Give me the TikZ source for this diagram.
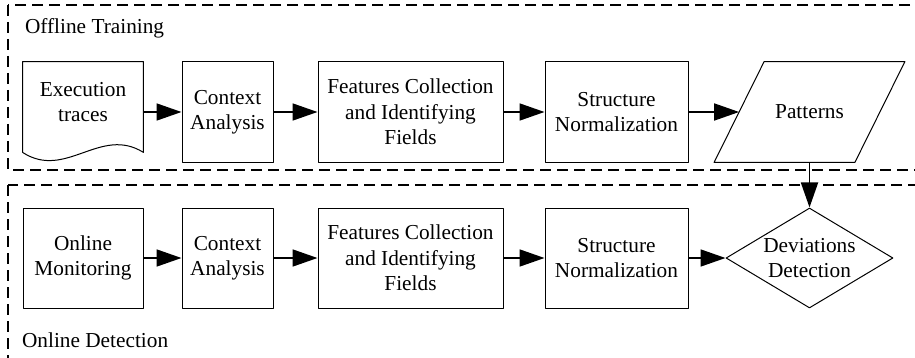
\documentclass[tikz,border=0pt]{standalone}
\usepackage{fontspec}
\setmainfont{Liberation Serif}
\usetikzlibrary{arrows.meta,calc,shapes.geometric}
\begin{document}
\begin{tikzpicture}[x=0.5pt, y=-0.5pt, font=\fontsize{10.65}{12.75}\selectfont, line join=round, line cap=round, >={Triangle[length=12.5pt,width=8.5pt]}]
	\tikzset{
		box/.style={draw, line width=0.5pt, align=center, minimum height=50pt},
		frame/.style={line width=0.9pt, dash pattern=on 5.5pt off 3pt, line cap=butt},
		link/.style={->, line width=0.9pt, line cap=butt}
	}
	%Khung hình.
	\useasboundingbox (0,0) rectangle (915,358);
	\clip (0,0) rectangle (915,358);
	\draw[frame] (8,5) rectangle (940,170);
	\draw[frame] (8,185) rectangle (940,380);
	\node[anchor=west] (offl) at (18,28) {Offline Training};
	\node[anchor=west] (onl) at (15,340) {Online Detection};
	%Nút đầu.
	\node[align=center, minimum width=60pt, minimum height=40pt, inner sep=0pt] (trace) at (83,102) {Execution\\traces};
	\draw[line width=0.5pt] (trace.north west) -- (trace.north east) -- ($(trace.south east)+(0,10)$)
		.. controls ($(trace.south east)+(-43,-17)$) and ($(trace.south west)+(43,38)$) .. ($(trace.south west)+(0,10)$) -- cycle;
	\node[box, minimum width=60pt] (mon) at (83,258) {Online\\Monitoring};
	%Hai hàng giống nhau.
	\foreach \r/\y in {off/112,on/258}{
		\node[box, minimum width=45.5pt] (ctx\r) at (227.5,\y) {Context\\Analysis};
		\node[box, minimum width=92.5pt] (feat\r) at (410.5,\y) {Features Collection\\and Identifying\\Fields};
		\node[box, minimum width=71.5pt] (norm\r) at (616.5,\y) {Structure\\Normalization};
		\draw[link] (ctx\r) -- (feat\r);
		\draw[link] (feat\r) -- (norm\r);
	}
	%Nút cuối.
	\node[minimum width=70pt, minimum height=50pt] (pat) at (809.5,112) {Patterns};
	\draw[line width=0.5pt] ($(pat.south west)+(-25,0)$) -- ($(pat.north west)+(25,0)$) -- ($(pat.north east)+(25,0)$) -- ($(pat.south east)+(-25,0)$) -- cycle;
	\node[draw, line width=0.5pt, diamond, aspect=1.67, inner sep=0pt, align=center, minimum width=83.5pt, minimum height=50pt] (dev) at (809.5,258) {Deviations\\Detection};
	%Mũi tên.
	\draw[link] (trace.east |- ctxoff) -- (ctxoff);
	\draw[link] (normoff) -- (pat);
	\draw[link] (mon) -- (ctxon);
	\draw[link] (normon) -- (dev);
	\draw[link] (pat.south) -- (dev);
\end{tikzpicture}
\end{document}
